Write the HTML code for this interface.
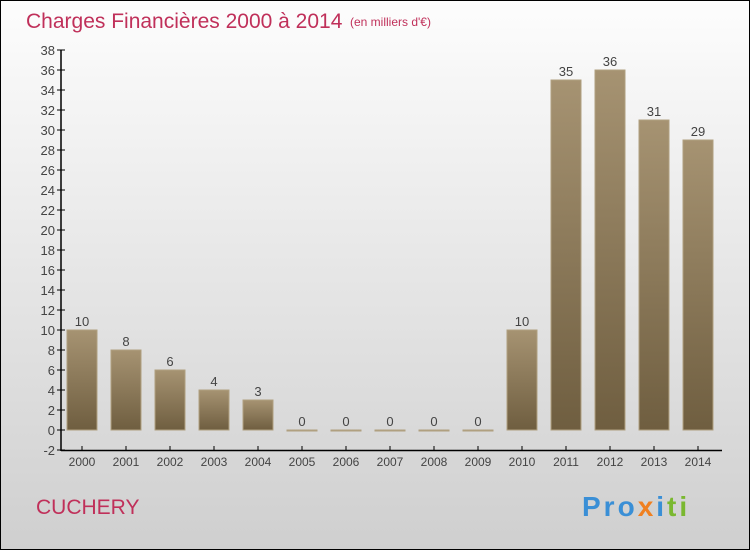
<!DOCTYPE html>
<html><head><meta charset="utf-8"><style>
body{margin:0}
svg{display:block;font-family:"Liberation Sans","DejaVu Sans",sans-serif}
</style></head><body>
<svg width="750" height="550">
<defs>
<linearGradient id="bg" x1="0" y1="0" x2="0" y2="1"><stop offset="0" stop-color="#fdfdfd"/><stop offset="1" stop-color="#cfcfcf"/></linearGradient>
<linearGradient id="bar" x1="0" y1="0" x2="0" y2="1"><stop offset="0" stop-color="#a69372"/><stop offset="1" stop-color="#6f5e40"/></linearGradient>
</defs>
<rect x="0.5" y="0.5" width="749" height="549" fill="url(#bg)" stroke="#000"/>
<text x="26" y="28" font-size="21" fill="#c0305a">Charges Financières 2000 à 2014</text>
<text x="350" y="26" font-size="12" fill="#c0305a">(en milliers d'€)</text>
<g id="axes"></g>
<g id="bars"></g>
<text x="36" y="514" font-size="21" fill="#c0305a">CUCHERY</text>
<text x="582" y="516" font-size="28" font-weight="bold" letter-spacing="3"><tspan fill="#3a8fd6">Pro</tspan><tspan fill="#f08020">x</tspan><tspan fill="#3a8fd6">i</tspan><tspan fill="#7ab830">ti</tspan></text>
</svg>
<script>
const years=["2000","2001","2002","2003","2004","2005","2006","2007","2008","2009","2010","2011","2012","2013","2014"];
const values=[10,8,6,4,3,0,0,0,0,0,10,35,36,31,29];
const yTicks=[-2,0,2,4,6,8,10,12,14,16,18,20,22,24,26,28,30,32,34,36,38];
const NS="http://www.w3.org/2000/svg";
function y(v){return 430-v*10;}
function x(i){return 82+i*44;}
function mk(tag,attrs,parent,text){const e=document.createElementNS(NS,tag);for(const k in attrs)e.setAttribute(k,attrs[k]);if(text!==undefined)e.textContent=text;parent.appendChild(e);return e;}
const ax=document.getElementById('axes'),bg=document.getElementById('bars');
let l=mk('line',{x1:61,y1:50,x2:61,y2:451,stroke:'#000','stroke-width':1.5},ax);


l=mk('line',{x1:61,y1:450.5,x2:722,y2:450.5,stroke:'#000','stroke-width':1.5},ax);


yTicks.forEach(t=>{
 mk('line',{x1:57,y1:y(t),x2:65,y2:y(t),stroke:'#000'},ax);
 const tx=mk('text',{x:55,y:y(t)+5,'font-size':13,'text-anchor':'end',fill:'#444'},ax,t);
 
 
});
years.forEach((yr,i)=>{
 mk('line',{x1:x(i),y1:446,x2:x(i),y2:450,stroke:'#000'},ax);
 const tx=mk('text',{x:x(i),y:466,'font-size':12,'text-anchor':'middle',fill:'#444'},ax,yr);
 
 
 const v=values[i];
 const h=Math.max(v*10,1);
 const r=mk('rect',{x:x(i)-15,y:y(v),width:30,height:h,fill:'url(#bar)',stroke:'#b0a080','stroke-width':1},bg);
 
 
 const lb=mk('text',{x:x(i),y:y(v)-4,'font-size':13,'text-anchor':'middle',fill:'#444'},bg,v);
 
 
});
</script>
</body></html>
